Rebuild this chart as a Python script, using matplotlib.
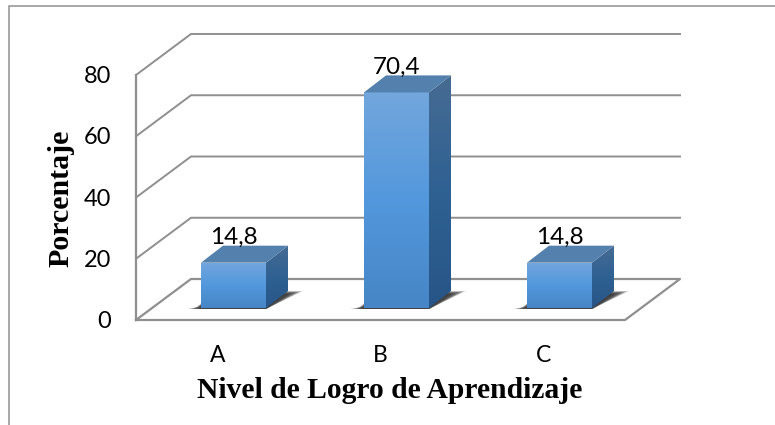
import numpy as np
import matplotlib
matplotlib.use('Agg')
import matplotlib.pyplot as plt
from matplotlib.colors import LinearSegmentedColormap
from matplotlib.patches import Polygon

categories = ['A', 'B', 'C']
values = [14.8, 70.4, 14.8]
value_labels = ['14,8', '70,4', '14,8']
y_ticks = [0, 20, 40, 60, 80]

# pixel scale of the front plane
X_UNIT = 163.0
Y_UNIT = 3.0625
X0 = 136
Y0 = 320

# oblique depth, in data units
WALL_DX = 55 / X_UNIT
WALL_DY = 41 / Y_UNIT
BAR_DX = 22 / X_UNIT
BAR_DY = 17 / Y_UNIT
BAR_W = 65 / X_UNIT
BAR_SHIFT_X = 16 / X_UNIT
BAR_SHIFT_Y = 12 / Y_UNIT

GRID = '#8f8f8f'
front_cmap = LinearSegmentedColormap.from_list('front', ['#72a6dd', '#5398dc', '#4686c6'])
side_cmap = LinearSegmentedColormap.from_list('side', ['#466b92', '#2f6193', '#285587'])
TOP_COLOR = '#5480ad'


def grad_face(ax, pts, cmap, z):
    pts = np.array(pts)
    poly = Polygon(pts, closed=True, fc='none', ec='none', zorder=z)
    ax.add_patch(poly)
    grad = np.linspace(0, 1, 64).reshape(-1, 1)
    im = ax.imshow(grad, cmap=cmap, aspect='auto', zorder=z, interpolation='bilinear',
                   extent=(pts[:, 0].min(), pts[:, 0].max(), pts[:, 1].min(), pts[:, 1].max()))
    im.set_clip_path(poly)


fig = plt.figure(figsize=(7.75, 4.25), dpi=100)
ax = fig.add_axes([0, 0, 1, 1])

# outer frame
ax.plot([(9 - X0) / X_UNIT, (9 - X0) / X_UNIT, (775 - X0) / X_UNIT],
        [(Y0 - 425) / Y_UNIT, (Y0 - 6) / Y_UNIT, (Y0 - 6) / Y_UNIT],
        color='#a0a0a0', lw=1.3, zorder=1)

# walls
for v in y_ticks[1:]:
    ax.plot([0, WALL_DX, 3 + WALL_DX], [v, v + WALL_DY, v + WALL_DY], color=GRID, lw=1.4, zorder=2)
ax.plot([0, 0], [0, y_ticks[-1]], color=GRID, lw=1.6, zorder=2)
ax.plot([0, 3, 3 + WALL_DX, WALL_DX, 0], [0, 0, WALL_DY, WALL_DY, 0], color=GRID, lw=1.6, zorder=2)

for i, (cat, val, lab) in enumerate(zip(categories, values, value_labels)):
    x0 = i + 0.5 - BAR_W / 2 + BAR_SHIFT_X
    x1 = x0 + BAR_W
    b = BAR_SHIFT_Y
    t = b + val

    # soft shadow on the floor
    n = 16
    for k in range(n):
        e = (n - 1 - k) / (n - 1)
        sh = [(x0 - (15 * e) / X_UNIT, b - 1 / Y_UNIT),
              (x1, b - 1 / Y_UNIT),
              (x1 + BAR_DX + (15 * e) / X_UNIT, b + BAR_DY - 3 / Y_UNIT * (1 - e)),
              (x1 - 30 * e / X_UNIT, b + BAR_DY - 3 / Y_UNIT * (1 - e)),
              (x0 - 4 * e / X_UNIT, b + 5 * (1 - e) / Y_UNIT)]
        ax.add_patch(Polygon(sh, closed=True, fc='#2a2a2a', ec='none', alpha=0.12, zorder=3))

    grad_face(ax, [(x0, b), (x1, b), (x1, t), (x0, t)], front_cmap, 5)
    grad_face(ax, [(x1, b), (x1 + BAR_DX, b + BAR_DY), (x1 + BAR_DX, t + BAR_DY), (x1, t)], side_cmap, 5)
    ax.add_patch(Polygon([(x0, t), (x1, t), (x1 + BAR_DX, t + BAR_DY), (x0 + BAR_DX, t + BAR_DY)],
                         closed=True, fc=TOP_COLOR, ec='none', zorder=5))

    ax.text((x0 + x1) / 2 + 0.5 / X_UNIT, t + BAR_DY - 2 / Y_UNIT, lab, family='Lato', fontsize=17.5,
            ha='center', va='bottom', color='black', zorder=6)
    ax.text(i + 0.5, -35 / Y_UNIT, cat, family='Lato', fontsize=16.5,
            ha='center', va='center', color='black')

for v in y_ticks:
    ax.text(-25 / X_UNIT, v - 1.5 / Y_UNIT, str(v), family='Lato', fontsize=17,
            ha='right', va='center', color='black')

ax.text((390 - X0) / X_UNIT, (Y0 - 391) / Y_UNIT, 'Nivel de Logro de Aprendizaje',
        family='Liberation Serif', weight='bold', fontsize=21.3, ha='center', va='center')
ax.text((61 - X0) / X_UNIT, (Y0 - 198) / Y_UNIT, 'Porcentaje', rotation=90,
        family='Liberation Serif', weight='bold', fontsize=21.5, ha='center', va='center')

ax.set_xlim(-X0 / X_UNIT, (775 - X0) / X_UNIT)
ax.set_ylim((Y0 - 425) / Y_UNIT, Y0 / Y_UNIT)
ax.axis('off')

fig.savefig('out.png', dpi=100)
